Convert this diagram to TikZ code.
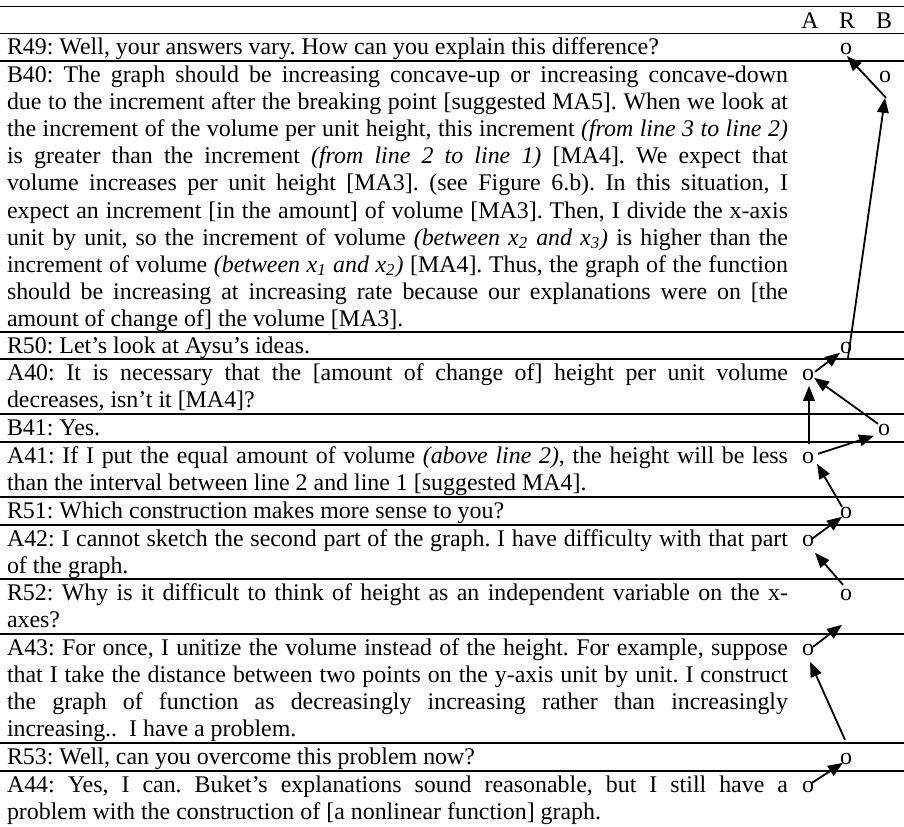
\documentclass[tikz,border=0pt]{standalone}
\usepackage{fontspec}
\setmainfont{Liberation Serif}
\usetikzlibrary{arrows.meta,calc}
\newcommand\rowpar[1]{\parbox[t]{390.5pt}{\frenchspacing\tolerance=10000\hyphenpenalty=10000\exhyphenpenalty=10000 #1}}
\begin{document}
\begin{tikzpicture}[x=0.5pt,y=-0.5pt,
  hline/.style={line width=0.6pt},
  txt/.style={inner sep=0pt, outer sep=0pt, anchor=base west, font=\fontsize{11.95pt}{13.575pt}\selectfont},
  omark/.style={inner sep=0pt, outer sep=0pt, anchor=base, font=\fontsize{11.95pt}{13.575pt}\selectfont},
  conn/.style={line width=0.9pt, -{Triangle[length=7.5pt,width=5.8pt]}},
]
\useasboundingbox (0,0) rectangle (904,826);
% rules
\foreach \y in {6.7,33.3,61,332,359,414,442,497,525,579,634,743,771}
  \draw[hline] (0,\y) -- (904,\y);
% header
\node[omark] (hA) at (810,28) {A};
\node[omark] (hR) at (847,28) {R};
\node[omark] (hB) at (884,28) {B};
% rows
\node[txt] (tR49) at (7,54.6) {\rowpar{R49: Well, your answers vary. How can you explain this difference?}};
\node[txt] (tB40) at (7,82.3) {\rowpar{B40: The graph should be increasing concave-up or increasing concave-down\linebreak
due to the increment after the breaking point [suggested MA5]. When we look at\linebreak
the increment of the volume per unit height, this increment \textit{(from line 3 to line 2)}\linebreak
is greater than the increment \textit{(from line 2 to line 1)} [MA4]. We expect that\linebreak
volume increases per unit height [MA3]. (see Figure 6.b). In this situation, I\linebreak
expect an increment [in the amount] of volume [MA3]. Then, I divide the x-axis\linebreak
unit by unit, so the increment of volume \textit{(between x\textsubscript{2} and x\textsubscript{3})} is higher than the\linebreak
increment of volume \textit{(between x\textsubscript{1} and x\textsubscript{2})} [MA4]. Thus, the graph of the function\linebreak
should be increasing at increasing rate because our explanations were on [the\linebreak
amount of change of] the volume [MA3].}};
\node[txt] (tR50) at (7,353.3) {\rowpar{R50: Let’s look at Aysu’s ideas.}};
\node[txt] (tA40) at (7,380.3) {\rowpar{A40: It is necessary that the [amount of change of] height per unit volume\linebreak
decreases, isn’t it [MA4]?}};
\node[txt] (tB41) at (7,435.3) {\rowpar{B41: Yes.}};
\node[txt] (tA41) at (7,463.3) {\rowpar{A41: If I put the equal amount of volume \textit{(above line 2)}, the height will be less\linebreak
than the interval between line 2 and line 1 [suggested MA4].}};
\node[txt] (tR51) at (7,518.3) {\rowpar{R51: Which construction makes more sense to you?}};
\node[txt] (tA42) at (7,546.3) {\rowpar{A42: I cannot sketch the second part of the graph. I have difficulty with that part\linebreak
of the graph.}};
\node[txt] (tR52) at (7,600.3) {\rowpar{R52: Why is it difficult to think of height as an independent variable on the x-\linebreak
axes?}};
\node[txt] (tA43) at (7,655.3) {\rowpar{A43: For once, I unitize the volume instead of the height. For example, suppose\linebreak
that I take the distance between two points on the y-axis unit by unit. I construct\linebreak
the graph of function as decreasingly increasing rather than increasingly\linebreak
increasing..\ \ I have a problem.}};
\node[txt] (tR53) at (7,764.3) {\rowpar{R53: Well, can you overcome this problem now?}};
\node[txt] (tA44) at (7,792.3) {\rowpar{A44: Yes, I can. Buket’s explanations sound reasonable, but I still have a\linebreak
problem with the construction of [a nonlinear function] graph.}};
% o marks
\node[omark] (oR49) at (846,54.6) {o};
\node[omark] (oB40) at (885,82.3) {o};
\node[omark] (oR50) at (846,353.3) {o};
\node[omark] (oA40) at (808,380.3) {o};
\node[omark] (oB41) at (884,435.3) {o};
\node[omark] (oA41) at (808,463.3) {o};
\node[omark] (oR51) at (846,518.3) {o};
\node[omark] (oA42) at (808,546.3) {o};
\node[omark] (oR52) at (846,600.3) {o};
\node[omark] (oA43) at (808,655.3) {o};
\node[omark] (oR53) at (846,764.3) {o};
\node[omark] (oA44) at (808,792.3) {o};
% connectors
\draw[conn] ($(oB40)+(1,21)$) -- ($(oR49)+(1,7)$);
\draw[conn] ($(oR50)+(2,10)$) -- ($(oB40)+(0,21)$);
\draw[conn] ($(oA40)+(7,-3)$) -- ($(oR50)+(-6,5)$);
\draw[conn] ($(oB41)+(-6,-6)$) -- ($(oA40)+(6,3)$);
\draw[conn] ($(oA41)+(1,-14)$) -- ($(oA40)+(1,11)$);
\draw[conn] ($(oA41)+(10,-4)$) -- ($(oB41)+(-10,6)$);
\draw[conn] ($(oR51)+(-4,-6)$) -- ($(oA41)+(9,6)$);
\draw[conn] ($(oA42)+(4,-2)$) -- ($(oR51)+(-4,4)$);
\draw[conn] ($(oR52)+(-3,-10)$) -- ($(oA42)+(7,12)$);
\draw[conn] ($(oA43)+(5,-3)$) -- ($(oR52)+(-4,30)$);
\draw[conn] ($(oR53)+(-1,-19)$) -- ($(oA43)+(2,12)$);
\draw[conn] ($(oA44)+(4,-4)$) -- ($(oR53)+(-3,4)$);
\end{tikzpicture}
\end{document}
